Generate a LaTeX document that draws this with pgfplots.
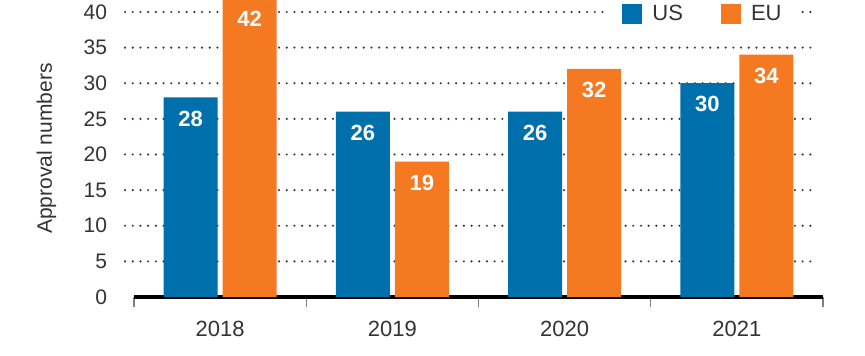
\documentclass[border=0pt]{standalone}
\usepackage{pgfplots}
\pgfplotsset{compat=1.18}
\usepackage{fontspec}
\setmainfont{Liberation Sans}
\definecolor{usblue}{HTML}{0070AD}
\definecolor{euorange}{HTML}{F47920}
\definecolor{txt}{HTML}{333333}
\definecolor{dotc}{HTML}{3A3A3A}
\begin{document}
\begin{tikzpicture}
\begin{axis}[
  scale only axis,
  width=344.5pt, height=148.5pt,
  xmin=-0.5, xmax=3.5,
  ymin=0, ymax=41.68,
  clip=false,
  ybar, bar width=27pt,
  xtick={0,1,2,3},
  xticklabels={2018,2019,2020,2021},
  minor xtick={-0.5,0.5,1.5,2.5,3.5},
  major x tick style={draw=none},
  minor x tick style={draw=gray, line width=0.6pt},
  minor tick length=5pt,
  tick align=outside,
  axis x line*=bottom,
  x axis line style={-, line width=2pt, black},
  axis y line*=left,
  y axis line style={draw=none},
  ytick={0,5,...,40},
  major y tick style={draw=none},
  /pgf/number format/assume math mode=true,
  yticklabel style={font=\fontsize{10.5}{12}\selectfont, text=txt, anchor=east, inner sep=0pt, xshift=-9pt},
  xticklabel style={font=\fontsize{11}{13}\selectfont, text=txt, anchor=north, inner sep=0pt, yshift=-7.5pt},
  ylabel={Approval numbers},
  every axis y label/.style={at={(axis description cs:-0.1270,0.5)}, rotate=90, anchor=center, font=\fontsize{10.5}{12}\selectfont, text=txt},
  set layers,
  legend image code/.code={\fill[#1] (0pt,-5pt) rectangle (10pt,5pt);},
  legend style={draw=none, fill=white, at={(rel axis cs:0.688,0.953)}, anchor=west,
    legend columns=-1, font=\fontsize{11}{13}\selectfont, text=txt,
    inner xsep=7pt, inner ysep=1pt,
    /tikz/every odd column/.style={column sep=3pt},
    /tikz/every even column/.style={column sep=17pt}},
  nodes near coords,
  every node near coord/.append style={font=\bfseries\fontsize{11}{13}\selectfont, text=white, anchor=north, inner sep=0pt, yshift=-6.5pt},
]
\pgfplotsinvokeforeach{5,10,15,20,25,30,35,40}{
  \begin{pgfonlayer}{axis background}
  \draw[dotc, line width=1.2pt, line cap=round, dash pattern=on 0pt off 3.85pt] (axis cs:-0.552,#1) -- (axis cs:3.453,#1);
  \end{pgfonlayer}
}
\addplot[fill=usblue, draw=none, bar shift=-14.75pt] coordinates {(0,28) (1,26) (2,26) (3,30)};
\addplot[fill=euorange, draw=none, bar shift=14.75pt] coordinates {(0,42) (1,19) (2,32) (3,34)};
\legend{US,EU}
\end{axis}
\pgfresetboundingbox
\path[use as bounding box] (-67pt,-29pt) rectangle (365.5pt,148.5pt);
\end{tikzpicture}
\end{document}
